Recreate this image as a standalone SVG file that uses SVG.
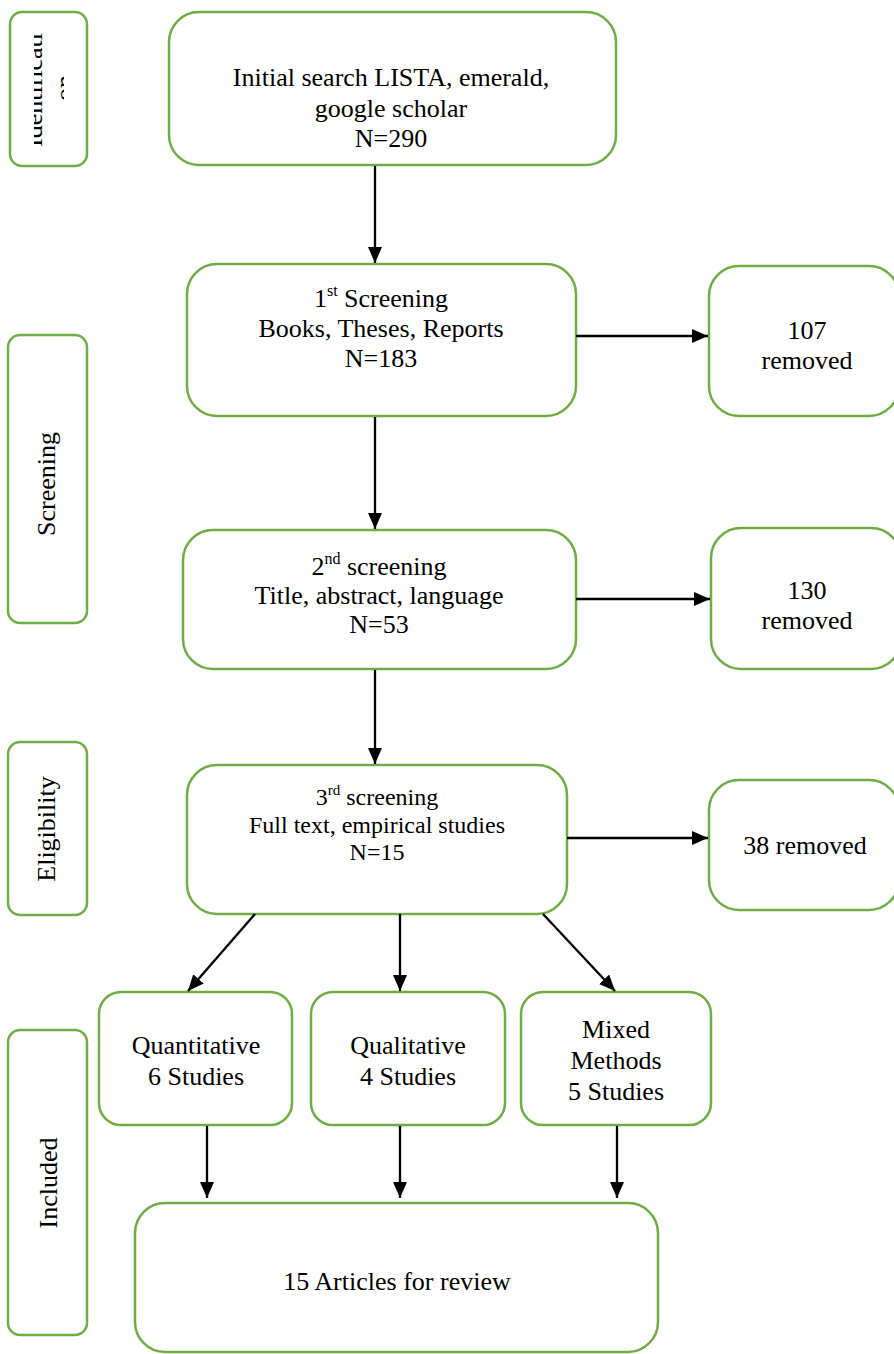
<svg xmlns="http://www.w3.org/2000/svg" width="894" height="1354" viewBox="0 0 894 1354">
<style>
.box{fill:#fff;stroke:#70AD47;stroke-width:2.5}
.t{font-family:"Liberation Serif","Times New Roman",serif;font-size:26px;fill:#000;text-anchor:middle}
.t24{font-family:"Liberation Serif","Times New Roman",serif;font-size:24px;fill:#000;text-anchor:middle}
.con line{stroke:#000;stroke-width:2.3;fill:none}
</style>
<defs>
<marker id="ah" viewBox="0 0 16 14" refX="16" refY="7" markerWidth="16" markerHeight="14" orient="auto" markerUnits="userSpaceOnUse"><path d="M0,0 L16,7 L0,14 z" fill="#000"/></marker>
<clipPath id="idclip"><rect x="34" y="12" width="30" height="154"/></clipPath>
</defs>
<rect width="894" height="1354" fill="#fff"/>

<g id="lbl-identification">
<rect class="box" x="10" y="12" width="77" height="154" rx="12"/>
<g clip-path="url(#idclip)">
<text class="t" transform="translate(42,90) rotate(-90)">Identificati</text>
<text class="t" transform="translate(73,88) rotate(-90)">on</text>
</g>
</g>
<g id="lbl-screening">
<rect class="box" x="8" y="335" width="79" height="288" rx="12"/>
<text class="t" transform="translate(55,484) rotate(-90)">Screening</text>
</g>
<g id="lbl-eligibility">
<rect class="box" x="8" y="742" width="79" height="173" rx="12"/>
<text class="t" transform="translate(55,829) rotate(-90)">Eligibility</text>
</g>
<g id="lbl-included">
<rect class="box" x="8" y="1030" width="79" height="305" rx="12"/>
<text class="t" transform="translate(57,1183) rotate(-90)">Included</text>
</g>

<g id="n-initial">
<rect class="box" x="169" y="12" width="447" height="153" rx="30"/>
<text class="t" x="391" y="86">Initial search LISTA, emerald,</text>
<text class="t" x="391" y="117">google scholar</text>
<text class="t" x="391" y="147">N=290</text>
</g>
<g id="n-screen1">
<rect class="box" x="187" y="264" width="389" height="152" rx="30"/>
<text class="t" x="381" y="307">1<tspan font-size="16" dy="-11">st</tspan><tspan dy="11"> Screening</tspan></text>
<text class="t" x="381" y="337">Books, Theses, Reports</text>
<text class="t" x="381" y="367">N=183</text>
</g>
<g id="n-removed107">
<rect class="box" x="709" y="266" width="190" height="150" rx="30"/>
<text class="t" x="807" y="339">107</text>
<text class="t" x="807" y="369">removed</text>
</g>
<g id="n-screen2">
<rect class="box" x="183" y="530" width="393" height="139" rx="30"/>
<text class="t" x="379" y="575">2<tspan font-size="16" dy="-11">nd</tspan><tspan dy="11"> screening</tspan></text>
<text class="t" x="379" y="604">Title, abstract, language</text>
<text class="t" x="379" y="633">N=53</text>
</g>
<g id="n-removed130">
<rect class="box" x="711" y="528" width="190" height="141" rx="30"/>
<text class="t" x="807" y="599">130</text>
<text class="t" x="807" y="629">removed</text>
</g>
<g id="n-screen3">
<rect class="box" x="187" y="765" width="380" height="149" rx="30"/>
<text class="t24" x="377" y="805">3<tspan font-size="15" dy="-10">rd</tspan><tspan dy="10"> screening</tspan></text>
<text class="t24" x="377" y="833">Full text, empirical studies</text>
<text class="t24" x="377" y="860">N=15</text>
</g>
<g id="n-removed38">
<rect class="box" x="709" y="780" width="190" height="130" rx="30"/>
<text class="t" x="805" y="854">38 removed</text>
</g>
<g id="n-quant">
<rect class="box" x="99" y="992" width="193" height="133" rx="22"/>
<text class="t" x="196" y="1054">Quantitative</text>
<text class="t" x="196" y="1085">6 Studies</text>
</g>
<g id="n-qual">
<rect class="box" x="311" y="992" width="194" height="133" rx="22"/>
<text class="t" x="408" y="1054">Qualitative</text>
<text class="t" x="408" y="1085">4 Studies</text>
</g>
<g id="n-mixed">
<rect class="box" x="521" y="992" width="190" height="133" rx="22"/>
<text class="t" x="616" y="1038">Mixed</text>
<text class="t" x="616" y="1069">Methods</text>
<text class="t" x="616" y="1100">5 Studies</text>
</g>
<g id="n-final">
<rect class="box" x="135" y="1203" width="523" height="149" rx="30"/>
<text class="t" x="397" y="1290">15 Articles for review</text>
</g>

<g id="connectors" class="con">
<line x1="375" y1="166" x2="375" y2="263" marker-end="url(#ah)"/>
<line x1="576" y1="336" x2="708" y2="336" marker-end="url(#ah)"/>
<line x1="375" y1="417" x2="375" y2="529" marker-end="url(#ah)"/>
<line x1="576" y1="599" x2="710" y2="599" marker-end="url(#ah)"/>
<line x1="375" y1="670" x2="375" y2="764" marker-end="url(#ah)"/>
<line x1="567" y1="838" x2="708" y2="838" marker-end="url(#ah)"/>
<line x1="255" y1="914" x2="188" y2="991" marker-end="url(#ah)"/>
<line x1="400" y1="914" x2="400" y2="991" marker-end="url(#ah)"/>
<line x1="543" y1="914" x2="615" y2="991" marker-end="url(#ah)"/>
<line x1="207" y1="1126" x2="207" y2="1198" marker-end="url(#ah)"/>
<line x1="400" y1="1126" x2="400" y2="1198" marker-end="url(#ah)"/>
<line x1="617" y1="1126" x2="617" y2="1198" marker-end="url(#ah)"/>
</g>
</svg>
